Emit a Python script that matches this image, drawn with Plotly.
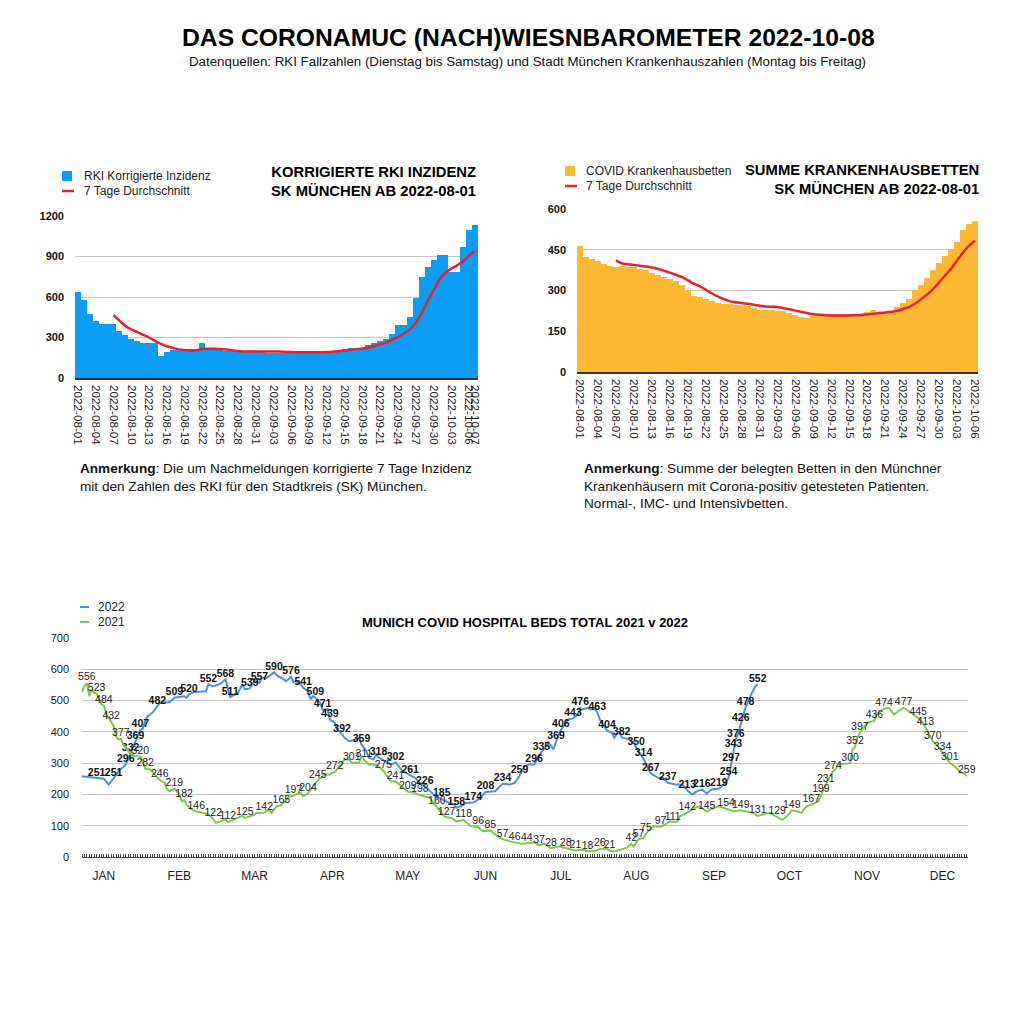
import pandas as pd
import plotly.graph_objects as go

FONT = "Liberation Sans, Arial, sans-serif"

# --- top left: corrected RKI incidence, daily from 2022-08-01 ---
inzidenz_start = "2022-08-01"
inzidenz = [
    635, 575, 475, 420, 398, 398, 398, 350, 315, 290, 275, 260, 258, 258, 165, 195,
    208, 208, 212, 212, 210, 258, 225, 215, 208, 202, 200, 195, 192, 190, 190, 190,
    188, 188, 188, 188, 186, 186, 186, 186, 186, 186, 188, 190, 200, 212, 220, 222,
    222, 245, 258, 275, 292, 325, 395, 395, 455, 595, 750, 822, 875, 910, 910, 785,
    785, 970, 1100, 1130,
]
# 7 day average starts on 2022-08-07
inzidenz_avg_start = "2022-08-07"
inzidenz_avg = [
    465, 425, 385, 360, 340, 320, 300, 275, 252, 235, 222, 212, 206, 202, 205, 214,
    216, 216, 214, 211, 206, 200, 197, 196, 196, 196, 197, 197, 196, 194, 192, 191,
    190, 190, 190, 190, 192, 195, 200, 204, 208, 213, 218, 226, 237, 248, 262, 284,
    305, 330, 360, 410, 480, 570, 650, 730, 780, 810, 835, 865, 905, 940,
]

# --- top right: COVID hospital beds, daily from 2022-08-01 ---
betten_start = "2022-08-01"
betten = [
    464, 423, 415, 408, 398, 392, 385, 390, 388, 385, 380, 374, 366, 358, 350, 344,
    336, 322, 302, 280, 277, 270, 262, 253, 251, 250, 248, 246, 242, 236, 230, 228,
    228, 226, 224, 218, 210, 204, 200, 205, 210, 214, 215, 213, 212, 212, 213, 215,
    222, 230, 218, 218, 222, 240, 255, 268, 303, 322, 347, 377, 402, 427, 452, 480,
    522, 543, 556,
]
betten_avg_start = "2022-08-07"
betten_avg = [
    411, 400, 397, 394, 391, 388, 385, 380, 373, 366, 358, 350, 338, 325, 316, 303,
    290, 278, 268, 261, 257, 254, 251, 248, 244, 241, 240, 239, 235, 231, 226, 221,
    217, 213, 211, 209, 208, 208, 208, 208, 209, 210, 212, 214, 217, 219, 222, 225,
    232, 240, 252, 268, 285, 305, 330, 355, 380, 410, 440, 465, 483,
]

# --- bottom: hospital beds by day of year ---
days_2022 = [
    0, 3, 6, 9, 11, 13, 15, 16, 18, 20, 22, 24, 25, 26, 27, 29, 31, 32, 34, 36, 38,
    42, 43, 44, 46, 49, 51, 52, 54, 55, 57, 59, 60, 61, 62, 64, 66, 67, 69, 71, 73,
    74, 76, 78, 79, 81, 82, 84, 86, 87, 88, 90, 91, 93, 94, 95, 96, 98, 99, 101, 102,
    104, 105, 107, 108, 110, 112, 114, 115, 117, 118, 120, 121, 122, 125, 127, 129,
    132, 135, 137, 139, 141, 144, 146, 148, 151, 153, 154, 156, 158, 161, 164, 166,
    170, 173, 176, 178, 180, 182, 184, 186, 188, 189, 191, 192, 194, 195, 197, 198,
    200, 202, 204, 205, 206, 208, 209, 211, 212, 213, 214, 216, 218, 219, 221, 222,
    225, 227, 228, 231, 233, 234, 237, 239, 241, 244, 247, 249, 251, 253, 255, 257,
    259, 262, 264, 265, 266, 267, 268, 269, 270, 271, 273, 275, 277, 278,
]
beds_2022 = [
    258, 255, 251, 250, 232, 251, 274, 282, 296, 332, 369, 407, 410, 434, 450, 461, 482,
    493, 495, 495, 509, 514, 509, 520, 527, 530, 530, 552, 546, 548, 554, 568, 541, 511,
    516, 523, 552, 536, 539, 562, 557, 573, 573, 584, 590, 576, 573, 562, 576, 559, 562,
    552, 541, 530, 504, 514, 509, 493, 471, 472, 439, 429, 408, 392, 381, 370, 374, 381,
    359, 338, 317, 312, 328, 318, 306, 296, 302, 274, 261, 253, 237, 226, 205, 189, 185,
    173, 168, 158, 162, 173, 174, 189, 208, 210, 234, 232, 237, 259, 290, 296, 296, 322,
    335, 354, 365, 344, 369, 406, 418, 440, 443, 456, 476, 472, 477, 472, 472, 463, 440,
    429, 404, 397, 381, 402, 382, 376, 365, 350, 314, 280, 267, 253, 253, 237, 232, 232,
    213, 200, 210, 216, 203, 216, 219, 232, 237, 254, 297, 343, 376, 397, 426, 478, 515,
    546, 552,
]
labeled_2022 = [
    6, 13, 18, 20, 22, 24, 31, 38, 44, 52, 59, 61, 69, 73, 79, 86, 91, 96, 99, 102,
    107, 115, 122, 129, 135, 141, 148, 154, 161, 166, 173, 180, 186, 189, 195, 197,
    202, 205, 212, 216, 222, 228, 231, 234, 241, 249, 255, 262, 266, 267, 268, 269,
    271, 273, 278,
]

days_2021 = [
    0, 1, 2, 3, 4, 5, 6, 7, 8, 9, 10, 12, 13, 14, 15, 16, 17, 18, 20, 21, 23, 24, 25,
    26, 28, 30, 31, 32, 34, 35, 36, 38, 40, 41, 42, 43, 45, 47, 50, 52, 54, 55, 57, 59,
    60, 62, 64, 66, 67, 70, 72, 74, 75, 77, 78, 80, 82, 84, 85, 87, 88, 90, 91, 93, 95,
    97, 100, 102, 104, 106, 108, 110, 111, 114, 115, 116, 118, 120, 122, 124, 125, 127,
    129, 132, 134, 137, 139, 143, 146, 149, 150, 152, 154, 157, 160, 163, 165, 168, 171,
    173, 176, 178, 181, 183, 186, 188, 190, 192, 193, 196, 199, 203, 206, 208, 211, 213,
    216, 217, 219, 221, 224, 226, 227, 229, 231, 232, 233, 235, 238, 240, 242, 243, 245,
    246, 249, 252, 254, 257, 259, 262, 265, 268, 271, 274, 276, 278, 280, 283, 286, 288,
    290, 291, 292, 294, 296, 298, 300, 303, 304, 306, 307, 309, 310, 311, 314, 316, 317,
    318, 319, 320, 323, 326, 327, 330, 332, 334, 336, 338, 341, 343, 344, 346, 347, 350,
    352, 354, 357, 359, 361, 363, 364,
]
beds_2021 = [
    527, 546, 556, 514, 536, 525, 523, 504, 488, 484, 456, 432, 418, 386, 376, 377, 360,
    349, 333, 322, 322, 320, 306, 282, 280, 264, 253, 246, 237, 216, 210, 219, 200, 178,
    182, 168, 152, 146, 141, 136, 122, 109, 114, 120, 112, 117, 125, 132, 125, 132, 141,
    143, 142, 152, 141, 162, 165, 184, 192, 197, 200, 205, 194, 204, 226, 245, 264, 264,
    272, 290, 312, 312, 301, 301, 324, 311, 296, 296, 290, 275, 264, 242, 241, 221, 209,
    205, 198, 189, 160, 130, 127, 125, 114, 118, 98, 96, 82, 85, 66, 57, 50, 46, 42, 44,
    47, 37, 43, 34, 28, 34, 28, 21, 23, 18, 18, 26, 26, 21, 18, 23, 29, 42, 34, 57, 61,
    75, 82, 98, 97, 104, 114, 111, 114, 130, 142, 157, 162, 145, 154, 162, 154, 146, 149,
    143, 141, 131, 136, 141, 129, 119, 130, 141, 149, 146, 141, 162, 167, 178, 199, 231,
    248, 274, 280, 296, 299, 300, 344, 352, 381, 397, 429, 436, 456, 474, 477, 456, 466,
    477, 461, 450, 445, 429, 413, 370, 354, 334, 301, 290, 274, 266, 259,
]
labeled_2021 = [
    2, 6, 9, 12, 16, 24, 26, 32, 38, 42, 47, 54, 60, 67, 75, 82, 87, 93, 97, 104, 111,
    116, 124, 129, 134, 139, 146, 150, 157, 163, 168, 173, 178, 183, 188, 193, 199, 203,
    208, 213, 217, 226, 229, 232, 238, 243, 249, 257, 265, 271, 278, 286, 292, 300, 304,
    306, 309, 316, 318, 320, 326, 330, 338, 344, 347, 350, 354, 357, 364,
]

month_labels = ["JAN", "FEB", "MAR", "APR", "MAY", "JUN", "JUL", "AUG", "SEP", "OCT", "NOV", "DEC"]
month_ticks = [9, 40, 71, 103, 134, 166, 197, 228, 260, 291, 323, 354]

BLUE_BAR = "#0B9CF4"
ORANGE_BAR = "#FDB833"
RED = "#E5232B"
BLUE_LINE = "#4A90E2"
GREEN_LINE = "#7DC74A"
GRID = "#C4C4C4"

# the page body keeps its default 8px margin, so the figure is 999px and
# every position below is given in page pixels of the 1015px window
SIZE = 999
OFF = 8


def px_x(p):
    return (p - OFF) / SIZE


def px_y(p):
    return 1 - (p - OFF) / SIZE


def dates(start, values):
    return pd.date_range(start, periods=len(values), freq="D")


def label_text(days, values, labeled):
    return [str(v) if d in labeled else "" for d, v in zip(days, values)]


fig = go.Figure()

fig.add_trace(go.Bar(
    x=dates(inzidenz_start, inzidenz), y=inzidenz, name="RKI Korrigierte Inzidenz",
    marker=dict(color=BLUE_BAR, line=dict(width=0)), xaxis="x", yaxis="y",
))
fig.add_trace(go.Scatter(
    x=dates(inzidenz_avg_start, inzidenz_avg), y=inzidenz_avg, name="7 Tage Durchschnitt",
    mode="lines", line=dict(color=RED, width=2.5, shape="spline"), xaxis="x", yaxis="y",
))
fig.add_trace(go.Bar(
    x=dates(betten_start, betten), y=betten, name="COVID Krankenhausbetten",
    marker=dict(color=ORANGE_BAR, line=dict(width=0)), xaxis="x2", yaxis="y2",
))
fig.add_trace(go.Scatter(
    x=dates(betten_avg_start, betten_avg), y=betten_avg, name="7 Tage Durchschnitt",
    mode="lines", line=dict(color=RED, width=2.5, shape="spline"), xaxis="x2", yaxis="y2",
))
fig.add_trace(go.Scatter(
    x=days_2022, y=beds_2022, name="2022", mode="lines+text", cliponaxis=False,
    text=label_text(days_2022, beds_2022, labeled_2022), textposition="top center",
    textfont=dict(size=10.5, color="#111", family=FONT, weight="bold"),
    line=dict(color=BLUE_LINE, width=2), xaxis="x3", yaxis="y3",
))
fig.add_trace(go.Scatter(
    x=days_2021, y=beds_2021, name="2021", mode="lines+text", cliponaxis=False,
    text=label_text(days_2021, beds_2021, labeled_2021), textposition="top center",
    textfont=dict(size=10.5, color="#222", family=FONT),
    line=dict(color=GREEN_LINE, width=2), xaxis="x3", yaxis="y3",
))

top_ticks_left = list(pd.date_range("2022-08-01", "2022-10-06", freq="3D")) + [pd.Timestamp("2022-10-07")]
top_ticks_right = list(pd.date_range("2022-08-01", "2022-10-06", freq="3D"))

date_axis = dict(
    type="date", tickformat="%Y-%m-%d", tickangle=90, tickmode="array",
    tickfont=dict(size=11.7, color="#222"), showgrid=False, showline=True,
    linecolor="#333", linewidth=1.5, ticks="", zeroline=False, ticklabelstandoff=3,
)
value_axis = dict(
    showgrid=True, gridcolor=GRID, gridwidth=1, zeroline=False, ticks="",
    tickfont=dict(size=11, color="#111", weight="bold"), ticklabelstandoff=10,
)

fig.update_layout(
    width=SIZE, height=SIZE,
    margin=dict(l=0, r=0, t=0, b=0, autoexpand=False),
    paper_bgcolor="white", plot_bgcolor="white",
    font=dict(family=FONT, color="#111"),
    bargap=0,
    showlegend=False,
    xaxis=dict(date_axis, domain=[px_x(75), px_x(478)], anchor="y",
               range=["2022-07-31 12:00", "2022-10-07 12:00"], tickvals=top_ticks_left),
    yaxis=dict(value_axis, domain=[px_y(378), px_y(216)], anchor="x", range=[0, 1200],
               tickvals=[0, 300, 600, 900, 1200]),
    xaxis2=dict(date_axis, domain=[px_x(577), px_x(978)], anchor="y2",
                range=["2022-07-31 12:00", "2022-10-06 12:00"], tickvals=top_ticks_right),
    yaxis2=dict(value_axis, domain=[px_y(372), px_y(209)], anchor="x2", range=[0, 600],
                tickvals=[0, 150, 300, 450, 600]),
    xaxis3=dict(domain=[px_x(82), px_x(968)], anchor="y3", range=[0, 364.5],
                tickmode="array", tickvals=month_ticks, ticktext=month_labels,
                tickfont=dict(size=12, color="#222"), ticks="", ticklabelstandoff=8,
                showgrid=False, zeroline=False, showline=True, linecolor="#444", linewidth=1,
                minor=dict(ticks="inside", tickmode="linear", tick0=0, dtick=1, ticklen=3,
                           tickcolor="#444", tickwidth=1, showgrid=False)),
    yaxis3=dict(domain=[px_y(857), px_y(638)], anchor="x3", range=[0, 700],
                tickvals=[0, 100, 200, 300, 400, 500, 600, 700], showgrid=True,
                gridcolor=GRID, zeroline=False, ticks="",
                tickfont=dict(size=11, color="#222"), ticklabelstandoff=12),
)

# hand drawn legends: swatch shapes plus text, placed like the reference
legend_items = [
    ("rect", BLUE_BAR, 62, 176, "RKI Korrigierte Inzidenz", 82),
    ("line", RED, 62, 191, "7 Tage Durchschnitt", 82),
    ("rect", ORANGE_BAR, 565, 171, "COVID Krankenhausbetten", 584),
    ("line", RED, 565, 186, "7 Tage Durchschnitt", 584),
    ("short", BLUE_LINE, 80, 607, "2022", 96),
    ("short", GREEN_LINE, 80, 622, "2021", 96),
]
for kind, color, sx, sy, label, tx in legend_items:
    if kind == "rect":
        fig.add_shape(type="rect", xref="paper", yref="paper",
                      x0=px_x(sx), x1=px_x(sx + 10), y0=px_y(sy + 5), y1=px_y(sy - 5),
                      fillcolor=color, line=dict(width=0))
    else:
        length = 12 if kind == "line" else 9
        width = 2.5 if kind == "line" else 2
        fig.add_shape(type="line", xref="paper", yref="paper",
                      x0=px_x(sx), x1=px_x(sx + length), y0=px_y(sy), y1=px_y(sy),
                      line=dict(color=color, width=width))
    fig.add_annotation(xref="paper", yref="paper", x=px_x(tx), y=px_y(sy), text=label,
                       showarrow=False, xanchor="left", yanchor="middle",
                       font=dict(size=12, color="#222"))

annotations = [
    dict(x=px_x(528), y=px_y(37), text="<b>DAS CORONAMUC (NACH)WIESNBAROMETER 2022-10-08</b>",
         font=dict(size=24.7, color="#000")),
    dict(x=px_x(527), y=px_y(61),
         text="Datenquellen: RKI Fallzahlen (Dienstag bis Samstag) und Stadt München "
              "Krankenhauszahlen (Montag bis Freitag)",
         font=dict(size=13.3, color="#111")),
    dict(x=px_x(478), y=px_y(182), xanchor="right",
         text="<b>KORRIGIERTE RKI INZIDENZ<br>SK MÜNCHEN AB 2022-08-01</b>",
         font=dict(size=14.8, color="#000"), align="right"),
    dict(x=px_x(981), y=px_y(179), xanchor="right",
         text="<b>SUMME KRANKENHAUSBETTEN<br>SK MÜNCHEN AB 2022-08-01</b>",
         font=dict(size=14.8, color="#000"), align="right"),
    dict(x=px_x(78), y=px_y(459), xanchor="left", yanchor="top", align="left",
         text="<b>Anmerkung</b>: Die um Nachmeldungen korrigierte 7 Tage Inzidenz<br>"
              "mit den Zahlen des RKI für den Stadtkreis (SK) München.",
         font=dict(size=13.6, color="#111")),
    dict(x=px_x(582), y=px_y(459), xanchor="left", yanchor="top", align="left",
         text="<b>Anmerkung</b>: Summe der belegten Betten in den Münchner<br>"
              "Krankenhäusern mit Corona-positiv getesteten Patienten.<br>"
              "Normal-, IMC- und Intensivbetten.",
         font=dict(size=13.6, color="#111")),
    dict(x=px_x(525), y=px_y(622), text="<b>MUNICH COVID HOSPITAL BEDS TOTAL 2021 v 2022</b>",
         font=dict(size=13, color="#000")),
]
for a in annotations:
    a.setdefault("xanchor", "center")
    a.setdefault("yanchor", "middle")
    fig.add_annotation(xref="paper", yref="paper", showarrow=False, **a)

fig.write_html("out.html")
